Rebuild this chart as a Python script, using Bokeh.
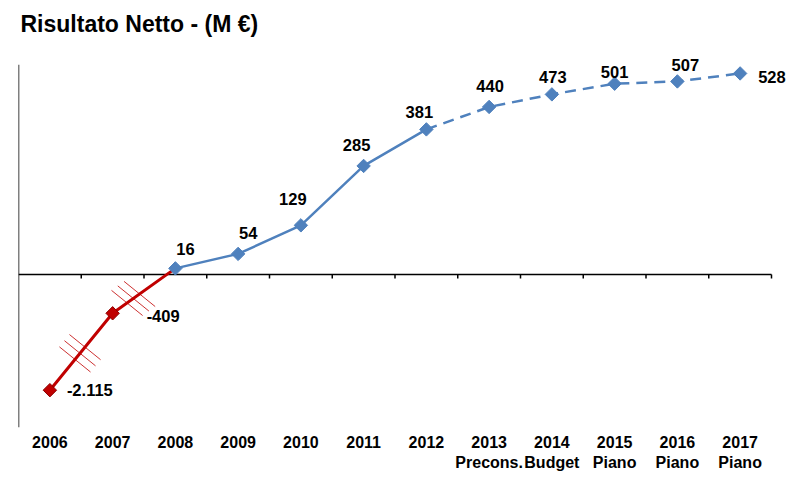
from bokeh.plotting import figure
from bokeh.models import ColumnDataSource, Range1d, FixedTicker
from bokeh.core.properties import value
from bokeh.embed import file_html
from bokeh.resources import INLINE
import math

# ---------------- data ----------------
years = ["2006", "2007", "2008", "2009", "2010", "2011", "2012",
         "2013", "2014", "2015", "2016", "2017"]
year_notes = ["", "", "", "", "", "", "", "Precons.", "Budget", "Piano", "Piano", "Piano"]
net_result = [-2115, -409, 16, 54, 129, 285, 381, 440, 473, 501, 507, 528]
# the chart uses a broken (compressed) axis below zero: plotted height of the two losses
broken_axis_value = {-2115: -304, -409: -102}
value_labels = ["-2.115", "-409", "16", "54", "129", "285", "381",
                "440", "473", "501", "507", "528"]
title_text = "Risultato Netto - (M €)"

# ---------------- layout / style ----------------
FONT = "Liberation Sans"
RED = "#C00000"
BLUE = "#4F81BD"
PX_PER_UNIT = 375 / 985
AX_LO, AX_HI = -402, 551          # extent of the drawn vertical axis
FRAME_W, FRAME_H = 772, 427       # frame covers the title area too
Y0 = -402
Y1 = Y0 + FRAME_H / PX_PER_UNIT
CAT_PX = 62.75
X_END = -0.5 + FRAME_W / CAT_PX

# label offsets in screen px (dx, dy) and alignment
label_dx = [17, 34, 10, 10, -8, -7, -7, 1, 1, 0, 8, 18]
label_dy = [0, 3, -19, -21, -26, -21, -17, -21, -17, -12, -16, 4]
label_align = ["left", "left"] + ["center"] * 9 + ["left"]

xs = list(range(len(years)))
ys = [broken_axis_value.get(v, v) for v in net_result]

p = figure(width=794, height=470, output_backend="svg", toolbar_location=None,
           x_range=Range1d(-0.5, X_END), y_range=Range1d(Y0, Y1),
           frame_width=FRAME_W, frame_height=FRAME_H,
           min_border_left=18, min_border_right=4, min_border_bottom=43,
           min_border_top=0)
p.outline_line_color = None
p.background_fill_color = "white"
p.border_fill_color = "white"
p.grid.visible = False

# chart title (drawn inside the frame's top band)
p.text(x=[-0.5], y=[Y1], text=[title_text], x_offset=2, y_offset=23,
       text_font=value(FONT), text_font_size="23px", text_font_style="bold",
       text_color="black", text_baseline="middle", text_align="left")

p.yaxis.visible = False

# x axis: labels only, at the bottom
p.xaxis.ticker = FixedTicker(ticks=xs)
p.xaxis.major_label_overrides = {
    i: (years[i] + ("\n" + year_notes[i] if year_notes[i] else "")) for i in xs}
p.xaxis.axis_line_color = None
p.xaxis.major_tick_line_color = None
p.xaxis.major_tick_out = 0
p.xaxis.major_tick_in = 0
p.xaxis.minor_tick_line_color = None
p.xaxis.major_label_text_font = FONT
p.xaxis.major_label_text_font_size = "16px"
p.xaxis.major_label_text_font_style = "bold"
p.xaxis.major_label_text_color = "black"
p.xaxis.major_label_standoff = 6

# vertical axis line and zero line with category-boundary ticks
p.segment(x0=[-0.5], y0=[AX_LO], x1=[-0.5], y1=[AX_HI], line_color="black", line_width=1.5)
p.segment(x0=[-0.5], y0=[0], x1=[len(years) - 0.5], y1=[0], line_color="black", line_width=1.5)
tick_len = 4 / PX_PER_UNIT
bounds = [i + 0.5 for i in xs]
p.segment(x0=bounds, y0=[0] * len(bounds), x1=bounds, y1=[-tick_len] * len(bounds),
          line_color="black", line_width=1.5)

# lines
p.line(xs[0:3], ys[0:3], line_color=RED, line_width=3)
p.line(xs[2:7], ys[2:7], line_color=BLUE, line_width=2.5)
p.line(xs[6:], ys[6:], line_color=BLUE, line_width=2.5, line_dash="11 7")

# axis-break hatch marks on the red segments
hx, hy = [], []
for (a, b, tc, step) in [(0, 1, 0.48, 0.08), (1, 2, 0.33, 0.10)]:
    for k in (-1, 0, 1):
        t = tc + k * step
        hx.append(xs[a] + t * (xs[b] - xs[a]))
        hy.append(ys[a] + t * (ys[b] - ys[a]))
p.scatter(hx, hy, marker="dash", size=40, angle=-0.68, line_color=RED,
          line_width=0.9, line_alpha=0.9)

# markers
p.scatter(xs[0:2], ys[0:2], marker="square", angle=math.pi / 4, size=9.5,
          fill_color=RED, line_color="#8B0000", line_width=1)
p.scatter(xs[2:], ys[2:], marker="square", angle=math.pi / 4, size=9.5,
          fill_color=BLUE, line_color=BLUE)

# value labels
src = ColumnDataSource(dict(x=xs, y=ys, t=value_labels, dx=label_dx, dy=label_dy, al=label_align))
p.text(x="x", y="y", text="t", x_offset="dx", y_offset="dy", text_align="al",
       text_baseline="middle", text_font=value(FONT), text_font_size="16.5px",
       text_font_style="bold", text_color="black", source=src)

open("out.html", "w").write(file_html(p, INLINE))
